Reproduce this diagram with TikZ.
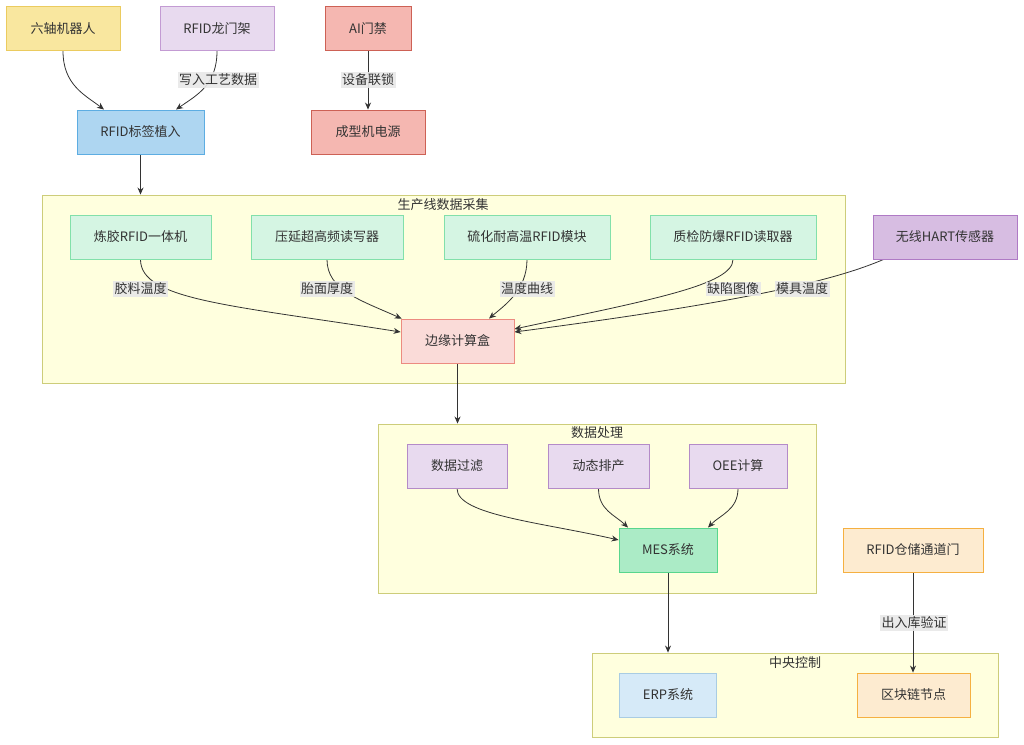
\documentclass[tikz,border=0pt]{standalone}
\usepackage{fontspec}
\newfontfamily\cjk{Noto Sans CJK SC}
\usetikzlibrary{arrows.meta,calc,backgrounds}
\pgfdeclarelayer{edges}
\pgfsetlayers{background,edges,main}
\definecolor{txt}{HTML}{333333}
\definecolor{ln}{HTML}{333333}
\definecolor{yelF}{HTML}{F9E79F}\definecolor{yelD}{HTML}{EBCB5F}
\definecolor{lilF}{HTML}{E8DAEF}\definecolor{lilD}{HTML}{C39BD3}
\definecolor{redF}{HTML}{F5B7B1}\definecolor{redD}{HTML}{CD6155}
\definecolor{bluF}{HTML}{AED6F1}\definecolor{bluD}{HTML}{5DADE2}
\definecolor{grnF}{HTML}{D5F5E3}\definecolor{grnD}{HTML}{82E0AA}
\definecolor{pnkF}{HTML}{FADBD8}\definecolor{pnkD}{HTML}{EC8B80}
\definecolor{purF}{HTML}{D7BDE2}\definecolor{purD}{HTML}{AF7AC5}
\definecolor{prcD}{HTML}{B48BC8}
\definecolor{mesF}{HTML}{ABEBC6}\definecolor{mesD}{HTML}{58D68D}
\definecolor{erpF}{HTML}{D6EAF8}\definecolor{erpD}{HTML}{A9CCE3}
\definecolor{orgF}{HTML}{FDEBD0}\definecolor{orgD}{HTML}{F5B041}
\definecolor{grpF}{HTML}{FFFFDE}\definecolor{grpD}{HTML}{CDCD7A}
\definecolor{lblF}{HTML}{E8E8E8}
\begin{document}
\begin{tikzpicture}[x=1pt,y=-1pt,
  box/.style={rectangle,draw,line width=0.9pt,minimum height=44pt,inner sep=0pt,text=txt,font=\cjk\fontsize{13}{15}\selectfont},
  grp/.style={rectangle,draw=grpD,fill=grpF,line width=0.9pt,inner sep=0pt},
  gtitle/.style={text=txt,inner sep=1pt,font=\cjk\fontsize{13}{15}\selectfont},
  lbl/.style={fill=lblF,fill opacity=0.9,text opacity=1,text=txt,inner sep=1.5pt,font=\cjk\fontsize{13}{15}\selectfont},
  arr/.style={draw=ln,line width=0.8pt,-{Stealth[length=7pt,width=6pt]}}]
\useasboundingbox (0,0) rectangle (1024,744);
% groups
\begin{scope}[on background layer]
\fill[white] (0,0) rectangle (1024,744);
\node[grp,minimum width=803pt,minimum height=188pt] (g1) at (443.5,289) {};
\node[grp,minimum width=438pt,minimum height=169pt] (g2) at (597,508.5) {};
\node[grp,minimum width=406pt,minimum height=84pt] (g3) at (795,695) {};
\end{scope}
\node[gtitle] (t1) at (443,205) {生产线数据采集};
\node[gtitle] (t2) at (597,433) {数据处理};
\node[gtitle] (t3) at (795,663) {中央控制};
% top nodes
\node[box,fill=yelF,draw=yelD,minimum width=114pt] (robot) at (63,28.5) {六轴机器人};
\node[box,fill=lilF,draw=lilD,minimum width=114pt] (gantry) at (217,28.5) {RFID龙门架};
\node[box,fill=redF,draw=redD,minimum width=86pt] (gate) at (368,28.5) {AI门禁};
\node[box,fill=bluF,draw=bluD,minimum width=127pt] (tag) at (140.5,132) {RFID标签植入};
\node[box,fill=redF,draw=redD,minimum width=114pt] (power) at (368,132) {成型机电源};
% collection
\node[box,fill=grnF,draw=grnD,minimum width=141pt] (c1) at (140.5,237) {炼胶RFID一体机};
\node[box,fill=grnF,draw=grnD,minimum width=152pt] (c2) at (327,237) {压延超高频读写器};
\node[box,fill=grnF,draw=grnD,minimum width=166pt] (c3) at (527,237) {硫化耐高温RFID模块};
\node[box,fill=grnF,draw=grnD,minimum width=166pt] (c4) at (733,237) {质检防爆RFID读取器};
\node[box,fill=purF,draw=purD,minimum width=144pt] (hart) at (945,237) {无线HART传感器};
\node[box,fill=pnkF,draw=pnkD,minimum width=113pt] (edge) at (457.5,341) {边缘计算盒};
% processing
\node[box,fill=lilF,draw=prcD,minimum width=100pt] (p1) at (457,466) {数据过滤};
\node[box,fill=lilF,draw=prcD,minimum width=101pt] (p2) at (598.5,466) {动态排产};
\node[box,fill=lilF,draw=prcD,minimum width=98pt] (p3) at (738,466) {OEE计算};
\node[box,fill=mesF,draw=mesD,minimum width=98pt] (mes) at (668,550) {MES系统};
% central
\node[box,fill=erpF,draw=erpD,minimum width=97pt] (erp) at (668,695) {ERP系统};
\node[box,fill=orgF,draw=orgD,minimum width=113pt] (chain) at (913.5,695) {区块链节点};
\node[box,fill=orgF,draw=orgD,minimum width=140pt] (ware) at (913,550) {RFID仓储通道门};
% labels
\node[lbl] (l1) at (218,80) {写入工艺数据};
\node[lbl] (l2) at (368,80) {设备联锁};
\node[lbl] (l3) at (140.5,289) {胶料温度};
\node[lbl] (l4) at (327,289) {胎面厚度};
\node[lbl] (l5) at (527,289) {温度曲线};
\node[lbl] (l6) at (733,289) {缺陷图像};
\node[lbl] (l7) at (802,289) {模具温度};
\node[lbl] (l8) at (914,623) {出入库验证};
% edges
\begin{pgfonlayer}{edges}
\draw[arr] (robot.south) .. controls (63,85) and (85,95) .. ($(tag.north)+(-36.5,0)$);
\draw[arr] (gantry.south) .. controls (217,85) and (197,95) .. ($(tag.north)+(35.5,0)$);
\draw[arr] (gate.south) -- (power.north);
\draw[arr] (tag.south) -- (tag.south |- g1.north);
\draw[arr] (c1.south) .. controls (140.5,300) and (230,305) .. ($(edge.west)+(0,-9)$);
\draw[arr] (c2.south) .. controls (327,290) and (360,300) .. ($(edge.north west)+(1,0)$);
\draw[arr] (c3.south) .. controls (527,290) and (505,305) .. ($(edge.north)+(31.5,0)$);
\draw[arr] (c4.south) .. controls (733,285) and (650,300) .. ($(edge.east)+(0,-12)$);
\draw[arr] ($(hart.south west)+(11,0)$) .. controls (840,278) and (760,300) .. ($(edge.east)+(0,-9)$);
\draw[arr] (edge.south) -- (edge.south |- g2.north);
\draw[arr] (p1.south) .. controls (457,515) and (540,522) .. ($(mes.west)+(0,-10)$);
\draw[arr] (p2.south) .. controls (598.5,510) and (615,515) .. ($(mes.north)+(-40,0)$);
\draw[arr] (p3.south) .. controls (738,510) and (720,515) .. ($(mes.north)+(40,0)$);
\draw[arr] (mes.south) -- (mes.south |- g3.north);
\draw[arr] (ware.south) -- (ware.south |- chain.north);
\end{pgfonlayer}
\end{tikzpicture}
\end{document}
